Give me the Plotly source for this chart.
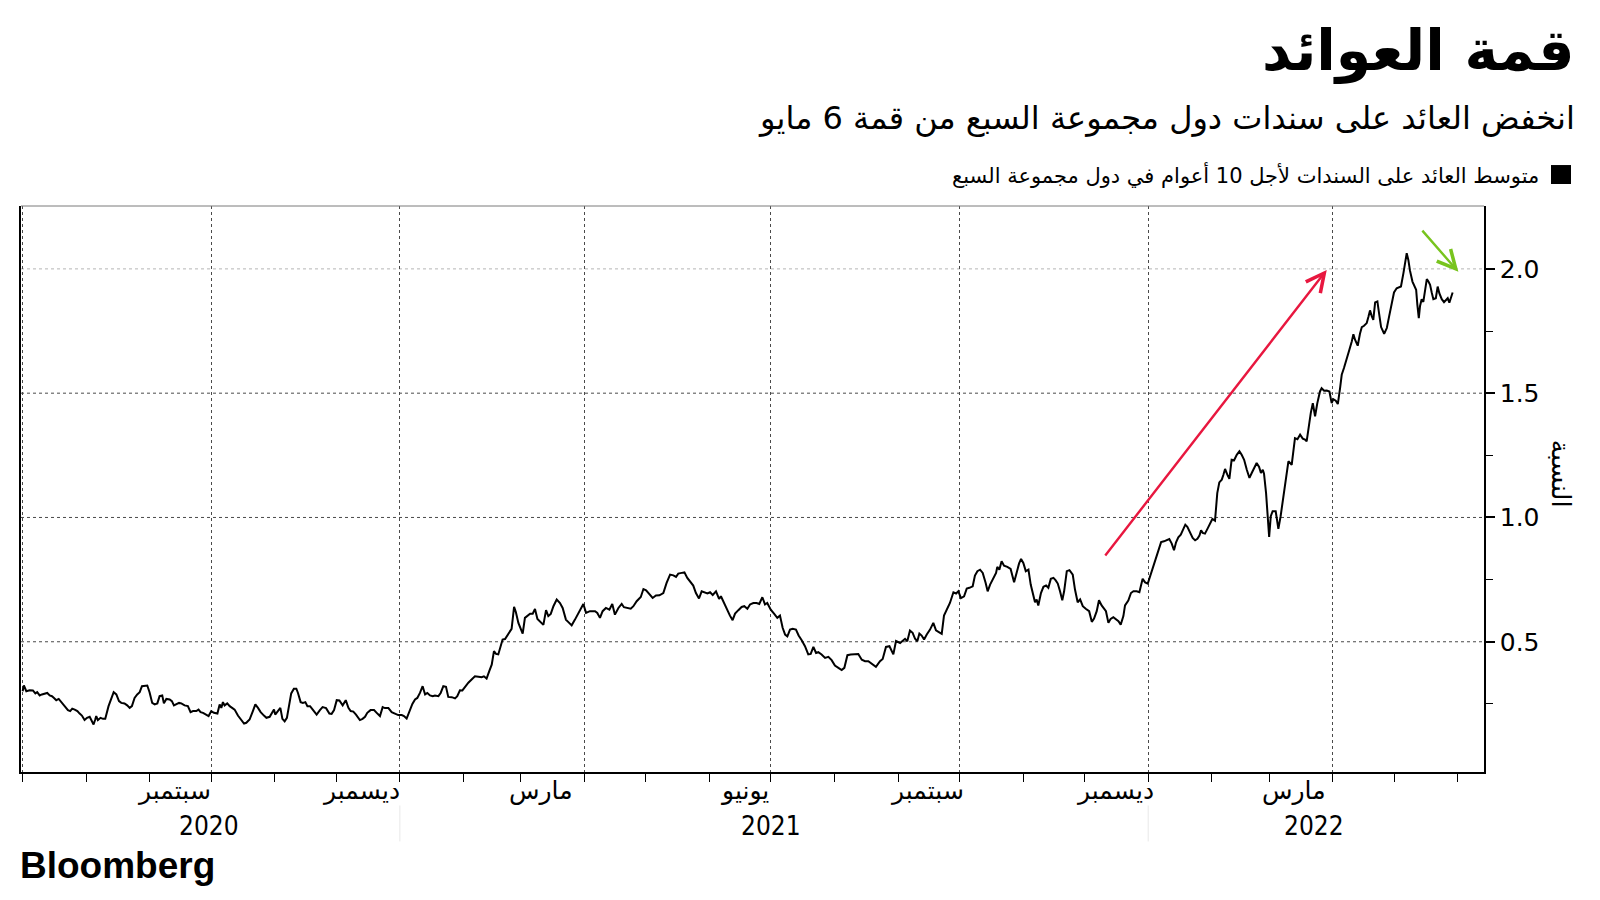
import pandas as pd
import plotly.graph_objects as go

# ---------------- data ----------------
START = "2020-07-01"  # day 0 of the series

# days since START, and the G7 average 10-year yield (%)
day_offset = [
    0.0, 0.6, 1.8, 3.4, 5.0, 6.2, 7.1, 8.3, 9.4, 10.7,
    12.0, 13.2, 14.3, 15.3, 16.4, 17.6, 18.9, 20.5, 22.1, 23.2,
    24.2, 25.4, 26.7, 27.8, 28.9, 30.2, 31.4, 32.7, 33.5, 34.6,
    35.4, 35.9, 36.7, 38.0, 39.2, 40.3, 41.9, 43.2, 44.4, 45.7,
    47.0, 48.1, 49.7, 51.0, 52.2, 53.3, 54.6, 55.9, 57.1, 58.2,
    59.5, 60.8, 61.9, 63.2, 64.4, 65.7, 66.8, 68.1, 68.9, 70.1,
    71.7, 72.8, 73.8, 75.0, 76.3, 77.4, 79.0, 80.6, 81.9, 83.1,
    84.7, 85.8, 86.8, 88.0, 89.6, 90.7, 92.0, 93.3, 95.0, 96.1,
    96.9, 97.7, 98.5, 99.8, 101.0, 102.3, 103.4, 105.0, 106.7, 108.0,
    109.1, 110.7, 112.3, 113.5, 114.8, 116.1, 117.7, 118.9, 120.5, 121.6,
    122.6, 123.2, 124.5, 125.7, 126.7, 127.8, 128.9, 130.2, 131.0, 132.3,
    133.5, 134.3, 135.6, 136.7, 137.9, 138.9,
    140.2, 141.5, 143.4, 145.0, 146.3, 148.0, 149.6, 150.7, 151.9, 153.2,
    154.5, 156.1, 157.6, 158.9, 160.0, 161.3, 162.6, 164.5, 165.8, 167.0,
    168.1, 169.7, 171.4, 172.7, 174.3, 175.6, 176.7, 178.4, 180.0, 181.6,
    183.2, 184.9, 186.0, 187.3, 188.6, 190.1, 191.4, 192.5, 193.8, 195.1,
    196.3, 197.4, 198.7, 200.0, 201.1, 202.8, 203.9, 205.2, 206.5, 207.6,
    209.3, 210.9, 212.0, 213.3, 214.5, 215.8, 217.4, 219.0, 220.6, 222.3,
    223.9, 225.0, 226.3, 227.6, 228.8, 229.9, 230.9, 232.0, 232.8, 234.1,
    235.3, 236.4, 237.4, 238.5, 239.7, 240.6, 241.8, 242.9, 243.9, 245.0,
    246.2, 247.5, 248.8, 249.9, 251.1, 252.4, 254.0, 255.3, 256.4, 257.6,
    258.9, 260.5, 262.1, 263.4, 265.0, 266.2, 267.8, 269.4, 271.1, 272.7,
    273.5, 274.8, 276.7, 279.2, 280.3,
    281.6, 282.9, 284.5, 286.2, 287.6, 288.9, 290.6, 292.2, 293.3, 294.9,
    296.6, 297.9, 299.5, 301.5, 302.8, 304.1, 305.7, 307.3, 308.9, 310.6,
    312.5, 314.1, 315.8, 317.4, 318.7, 319.8, 321.5, 322.8, 324.2, 325.8,
    327.1, 328.4, 329.9, 331.2, 332.8, 334.0, 335.3, 336.6, 338.2, 339.7,
    340.6, 342.1, 343.7, 345.0, 346.3, 347.5, 349.1, 350.7, 352.0, 353.5,
    354.8, 356.4, 358.0, 359.3, 360.8, 362.1, 363.2, 364.9, 366.5, 368.1,
    369.4, 370.7, 371.9, 373.0, 374.3, 375.6, 377.2, 378.5, 380.0, 381.6,
    383.2, 384.4, 385.7, 387.0, 388.1, 389.7, 391.4, 393.0, 394.6, 396.2,
    397.9, 399.5, 400.8, 402.3, 403.9, 405.5, 407.6, 409.3, 410.9, 412.5,
    414.1, 416.2, 418.2, 419.5, 421.1, 422.8, 424.7, 426.0,
    428.0, 429.3, 430.4, 431.5, 432.8, 434.1, 435.3, 436.4, 437.4, 438.5,
    439.7, 441.0, 442.6, 444.2, 445.5, 447.1, 448.3, 449.4, 451.0, 452.3,
    454.0, 455.3, 456.4, 457.7, 459.2, 460.5, 461.8, 463.4, 464.5, 465.7,
    467.0, 468.3, 469.7, 470.7, 471.9, 473.5, 474.8, 475.4, 476.4, 477.5,
    478.7, 480.3, 481.9, 483.6, 484.9, 486.0, 487.0, 488.1, 489.3, 490.6,
    491.7, 492.7, 493.8, 494.6, 495.4, 496.7, 497.9, 499.2, 500.3, 501.5,
    502.8, 503.9, 504.9, 506.0, 507.1, 508.0, 509.3, 510.6, 512.2, 513.3,
    514.6, 515.8, 517.1, 518.7, 520.2, 521.5, 522.6, 523.9, 525.0, 526.3,
    527.5, 528.4, 529.6, 530.7, 532.0, 533.2, 534.5, 535.6, 536.9, 537.7,
    539.3, 540.6, 541.8, 543.4, 544.7, 546.3, 547.5, 548.8, 549.9, 551.2,
    552.7, 554.0, 555.3, 556.7, 558.0, 559.3, 560.5, 561.6, 562.6, 563.7,
    564.9, 566.2, 567.1, 568.1,
    569.4, 570.7, 571.9, 573.0, 574.0, 574.8, 575.6, 576.7, 577.9, 579.2,
    580.3, 581.6, 582.7, 583.7, 584.9, 585.7, 586.5, 587.6, 588.6, 589.7,
    590.9, 592.2, 593.5, 594.6, 595.8, 597.1, 598.4, 599.5, 600.6, 601.9,
    603.1, 604.0, 604.9, 605.5, 606.5, 607.3, 608.0, 608.8, 609.7, 611.2,
    612.0, 612.5, 613.6, 614.9, 616.1, 617.4, 619.0, 619.8, 620.6, 621.8,
    623.1, 624.4, 625.5, 626.3, 627.1, 628.3, 629.3, 630.4, 631.5, 632.8,
    633.6, 634.8, 636.1, 637.4, 638.5, 639.3, 640.5, 641.5, 642.6, 643.4,
    644.5, 645.8, 647.1, 648.3, 649.1, 649.9, 651.2, 652.3, 653.2, 654.3,
    655.6, 656.4, 657.2, 658.0, 658.8, 659.7, 660.8, 661.6, 662.6, 664.1,
    665.4, 666.5, 667.8, 668.9, 670.2, 671.4, 672.3, 673.5, 674.3, 675.1,
    675.9, 676.7, 677.9, 678.8, 679.7, 680.3, 681.0, 681.6, 682.4, 683.2,
    684.1, 684.9, 685.7, 686.5, 687.3, 688.1, 689.3, 690.2, 691.0, 692.2,
    693.3, 694.3, 695.1, 695.9, 696.7, 697.5,
]

yield_pct = [
    0.301, 0.324, 0.301, 0.305, 0.304, 0.292, 0.297, 0.284, 0.288, 0.292,
    0.294, 0.284, 0.281, 0.274, 0.265, 0.270, 0.257, 0.241, 0.225, 0.221,
    0.231, 0.227, 0.221, 0.211, 0.203, 0.185, 0.194, 0.198, 0.187, 0.167,
    0.187, 0.201, 0.185, 0.194, 0.190, 0.190, 0.241, 0.274, 0.297, 0.288,
    0.261, 0.254, 0.252, 0.244, 0.234, 0.241, 0.274, 0.288, 0.297, 0.321,
    0.321, 0.324, 0.297, 0.254, 0.248, 0.252, 0.281, 0.284, 0.252, 0.270,
    0.268, 0.261, 0.244, 0.248, 0.254, 0.252, 0.244, 0.241, 0.217, 0.221,
    0.221, 0.227, 0.217, 0.214, 0.207, 0.201, 0.221, 0.214, 0.211, 0.248,
    0.234, 0.257, 0.244, 0.252, 0.241, 0.234, 0.227, 0.203, 0.185, 0.171,
    0.174, 0.187, 0.221, 0.248, 0.234, 0.217, 0.203, 0.194, 0.198, 0.211,
    0.227, 0.207, 0.221, 0.234, 0.190, 0.180, 0.194, 0.248, 0.292, 0.311,
    0.311, 0.294, 0.257, 0.254, 0.257, 0.241,
    0.241, 0.227, 0.207, 0.225, 0.237, 0.233, 0.211, 0.210, 0.225, 0.265,
    0.264, 0.244, 0.265, 0.234, 0.221, 0.219, 0.207, 0.185, 0.190, 0.198,
    0.214, 0.225, 0.225, 0.214, 0.201, 0.237, 0.233, 0.233, 0.217, 0.211,
    0.205, 0.205, 0.201, 0.191, 0.221, 0.250, 0.268, 0.274, 0.294, 0.321,
    0.288, 0.294, 0.284, 0.281, 0.284, 0.281, 0.294, 0.321, 0.319, 0.278,
    0.277, 0.272, 0.281, 0.305, 0.304, 0.319, 0.335, 0.348, 0.361, 0.359,
    0.357, 0.361, 0.352, 0.382, 0.408, 0.462, 0.451, 0.449, 0.471, 0.509,
    0.511, 0.525, 0.538, 0.552, 0.640, 0.619, 0.576, 0.549, 0.533, 0.596,
    0.605, 0.613, 0.613, 0.632, 0.592, 0.583, 0.568, 0.627, 0.603, 0.612,
    0.643, 0.670, 0.656, 0.636, 0.589, 0.579, 0.566, 0.589, 0.616, 0.643,
    0.652, 0.616, 0.623, 0.623, 0.616,
    0.596, 0.623, 0.636, 0.629, 0.652, 0.609, 0.636, 0.652, 0.639, 0.636,
    0.633, 0.643, 0.663, 0.680, 0.712, 0.707, 0.690, 0.676, 0.686, 0.687,
    0.696, 0.737, 0.770, 0.767, 0.761, 0.774, 0.777, 0.779, 0.757, 0.739,
    0.726, 0.696, 0.674, 0.703, 0.696, 0.694, 0.699, 0.688, 0.703, 0.672,
    0.683, 0.656, 0.623, 0.605, 0.587, 0.613, 0.627, 0.640, 0.643, 0.633,
    0.650, 0.656, 0.656, 0.652, 0.679, 0.650, 0.656, 0.629, 0.613, 0.596,
    0.605, 0.556, 0.529, 0.522, 0.549, 0.552, 0.549, 0.525, 0.506, 0.482,
    0.449, 0.451, 0.479, 0.455, 0.458, 0.449, 0.435, 0.439, 0.426, 0.404,
    0.395, 0.386, 0.395, 0.446, 0.449, 0.451, 0.451, 0.428, 0.422, 0.422,
    0.412, 0.399, 0.422, 0.431, 0.479, 0.482, 0.449, 0.503,
    0.495, 0.506, 0.512, 0.502, 0.545, 0.536, 0.512, 0.502, 0.533, 0.525,
    0.509, 0.529, 0.549, 0.576, 0.546, 0.538, 0.532, 0.605, 0.636, 0.656,
    0.699, 0.694, 0.703, 0.676, 0.683, 0.714, 0.717, 0.723, 0.766, 0.784,
    0.790, 0.777, 0.737, 0.703, 0.730, 0.753, 0.777, 0.801, 0.790, 0.824,
    0.806, 0.801, 0.793, 0.739, 0.780, 0.814, 0.833, 0.817, 0.784, 0.790,
    0.730, 0.690, 0.659, 0.670, 0.646, 0.696, 0.721, 0.726, 0.717, 0.753,
    0.757, 0.747, 0.734, 0.703, 0.667, 0.703, 0.784, 0.788, 0.770, 0.710,
    0.659, 0.670, 0.643, 0.632, 0.623, 0.580, 0.593, 0.623, 0.667, 0.646,
    0.633, 0.623, 0.576, 0.592, 0.599, 0.592, 0.583, 0.569, 0.603, 0.646,
    0.666, 0.696, 0.703, 0.703, 0.699, 0.753, 0.739, 0.734, 0.763, 0.793,
    0.837, 0.868, 0.901, 0.904, 0.908, 0.913, 0.895, 0.868, 0.900, 0.920,
    0.931, 0.954, 0.971, 0.962,
    0.938, 0.918, 0.908, 0.914, 0.927, 0.948, 0.938, 0.935, 0.954, 0.978,
    0.994, 0.987, 1.098, 1.141, 1.152, 1.172, 1.195, 1.172, 1.155, 1.232,
    1.230, 1.252, 1.266, 1.252, 1.232, 1.192, 1.159, 1.179, 1.199, 1.219,
    1.203, 1.179, 1.192, 1.176, 1.098, 1.005, 0.922, 1.005, 1.025, 1.025,
    0.981, 0.954, 1.005, 1.085, 1.152, 1.226, 1.212, 1.259, 1.319, 1.315,
    1.333, 1.317, 1.313, 1.306, 1.353, 1.420, 1.460, 1.407, 1.460, 1.507,
    1.520, 1.510, 1.511, 1.507, 1.460, 1.476, 1.470, 1.456, 1.520, 1.574,
    1.601, 1.634, 1.674, 1.708, 1.737, 1.715, 1.691, 1.739, 1.766, 1.771,
    1.782, 1.806, 1.833, 1.811, 1.795, 1.865, 1.869, 1.822, 1.766, 1.739,
    1.762, 1.808, 1.862, 1.905, 1.922, 1.926, 1.929, 1.983, 2.030, 2.063,
    2.036, 1.993, 1.949, 1.929, 1.916, 1.855, 1.802, 1.851, 1.878, 1.867,
    1.909, 1.959, 1.949, 1.936, 1.905, 1.878, 1.882, 1.929, 1.902, 1.878,
    1.866, 1.875, 1.882, 1.864, 1.882, 1.905,
]
assert len(day_offset) == len(yield_pct), (len(day_offset), len(yield_pct))

y_tick_vals = [0.5, 1.0, 1.5, 2.0]
y_tick_text = ["0.5", "1.0", "1.5", "2.0"]
y_minor_vals = [0.25, 0.75, 1.25, 1.75]
grid_colors = ["#4a4a4a", "#4a4a4a", "#4a4a4a", "#b5b5b5"]

month_labels = ["سبتمبر", "ديسمبر", "مارس", "يونيو", "سبتمبر", "ديسمبر", "مارس"]
month_label_dates = ["2020-09-13", "2020-12-13", "2021-03-11", "2021-06-18",
                     "2021-09-15", "2021-12-16", "2022-03-13"]
year_labels = ["2020", "2021", "2022"]
year_label_dates = ["2020-09-30", "2021-07-01", "2022-03-23"]
year_separator_dates = ["2021-01-01", "2022-01-01"]

title_text = "قمة العوائد"
subtitle_text = "انخفض العائد على سندات دول مجموعة السبع من قمة 6 مايو"
legend_text = "متوسط العائد على السندات لأجل 10 أعوام في دول مجموعة السبع"
y_title_text = "النسبة"
brand_text = "Bloomberg"

# annotation arrows (tail day, tail value, head day, head value)
red_arrow = (527.5, 0.841, 636.1, 1.996)
green_arrow = (682.1, 2.160, 700.3, 1.988)

X_RANGE_DAYS = (-0.8, 712.8)
Y_RANGE = (-0.024, 2.253)

# ---------------- helpers ----------------
base = pd.Timestamp(START)


def to_date(d):
    return (base + pd.Timedelta(days=d)).strftime("%Y-%m-%d %H:%M:%S")


dates = [to_date(d) for d in day_offset]

ARABIC = "DejaVu Sans"

fig = go.Figure()
fig.add_trace(go.Scatter(
    x=dates, y=yield_pct, mode="lines",
    line=dict(color="#000000", width=2),
    hoverinfo="skip", showlegend=False,
))

# plot-area geometry in page pixels (page body adds an 8px offset)
OFF = 8
L, R, T, B = 21, 1484, 206, 772.5
PW, PH = R - L, B - T


def px(xp):
    return (xp - L) / PW


def py(yp):
    return (B - yp) / PH


shapes = []
for v, c in zip(y_tick_vals, grid_colors):
    shapes.append(dict(type="line", xref="paper", yref="y", x0=0, x1=1, y0=v, y1=v,
                       line=dict(color=c, width=1, dash="dot"), layer="below"))
# top border
shapes.append(dict(type="line", xref="paper", yref="paper", x0=0, x1=1, y0=1, y1=1,
                   line=dict(color="#7a7a7a", width=1)))
# year separators
for d in year_separator_dates:
    shapes.append(dict(type="line", xref="x", yref="paper", x0=d, x1=d,
                       y0=py(806), y1=py(842), line=dict(color="#e8e8e8", width=1)))
# legend swatch
shapes.append(dict(type="rect", xref="paper", yref="paper",
                   x0=px(1551), x1=px(1571), y0=py(184), y1=py(165),
                   fillcolor="#000000", line=dict(width=0)))

annotations = [
    dict(text=title_text, xref="paper", yref="paper", x=px(1577), y=py(50),
         xanchor="right", yanchor="middle", showarrow=False,
         font=dict(family=ARABIC, size=57, color="#000000", weight="bold")),
    dict(text=subtitle_text, xref="paper", yref="paper", x=px(1577), y=py(118),
         xanchor="right", yanchor="middle", showarrow=False,
         font=dict(family=ARABIC, size=32, color="#000000")),
    dict(text=legend_text, xref="paper", yref="paper", x=px(1541), y=py(175),
         xanchor="right", yanchor="middle", showarrow=False,
         font=dict(family=ARABIC, size=21, color="#000000")),
    dict(text=y_title_text, xref="paper", yref="paper", x=px(1561), y=py(474),
         xanchor="center", yanchor="middle", showarrow=False, textangle=90,
         font=dict(family=ARABIC, size=26, color="#000000")),
    dict(text=brand_text, xref="paper", yref="paper", x=px(18), y=py(866),
         xanchor="left", yanchor="middle", showarrow=False,
         font=dict(family="Liberation Sans", size=37, color="#000000", weight="bold")),
]
for lab, d in zip(month_labels, month_label_dates):
    annotations.append(dict(text=lab, xref="x", yref="paper", x=d, y=py(791),
                            xanchor="center", yanchor="middle", showarrow=False,
                            font=dict(family=ARABIC, size=25, color="#000000")))
for lab, d in zip(year_labels, year_label_dates):
    annotations.append(dict(text=lab, xref="x", yref="paper", x=d, y=py(827),
                            xanchor="center", yanchor="middle", showarrow=False,
                            font=dict(family="DejaVu Sans Condensed, Liberation Sans Narrow, DejaVu Sans",
                                      size=26, color="#000000")))
for (td, tv, hd, hv), col in ((red_arrow, "#e8173f"), (green_arrow, "#78c41e")):
    annotations.append(dict(text="", x=to_date(hd), y=hv, ax=to_date(td), ay=tv,
                            xref="x", yref="y", axref="x", ayref="y",
                            showarrow=True, arrowhead=5, arrowsize=1.5,
                            arrowwidth=2.4, arrowcolor=col, standoff=0))

fig.update_layout(
    width=1600, height=900,
    margin=dict(l=L - OFF, r=1600 - (R - OFF), t=T - OFF, b=900 - (B - OFF)),
    plot_bgcolor="#ffffff", paper_bgcolor="#ffffff",
    showlegend=False,
    font=dict(family=ARABIC, color="#000000"),
    shapes=shapes, annotations=annotations,
    xaxis=dict(
        type="date", range=[to_date(X_RANGE_DAYS[0]), to_date(X_RANGE_DAYS[1])],
        showgrid=True, gridcolor="#4a4a4a", griddash="dot", gridwidth=1,
        tick0="2020-10-01", dtick="M3", ticks="outside", ticklen=8,
        tickcolor="#000000", tickwidth=1, showticklabels=False,
        showline=True, linecolor="#000000", linewidth=1.5, zeroline=False,
        minor=dict(tick0="2020-07-01", dtick="M1", ticks="outside", ticklen=8,
                   tickcolor="#000000", tickwidth=1, showgrid=False),
    ),
    yaxis=dict(
        side="right", range=list(Y_RANGE),
        tickvals=y_tick_vals, ticktext=y_tick_text,
        ticks="outside", ticklen=9, tickwidth=2, tickcolor="#000000",
        tickfont=dict(family="DejaVu Sans", size=25, color="#000000"),
        showgrid=False, zeroline=False,
        showline=True, linecolor="#000000", linewidth=1.5, mirror=True,
        minor=dict(tickvals=y_minor_vals, ticks="outside", ticklen=7,
                   tickcolor="#000000", tickwidth=1, showgrid=False),
    ),
)

fig.write_html("out.html")
